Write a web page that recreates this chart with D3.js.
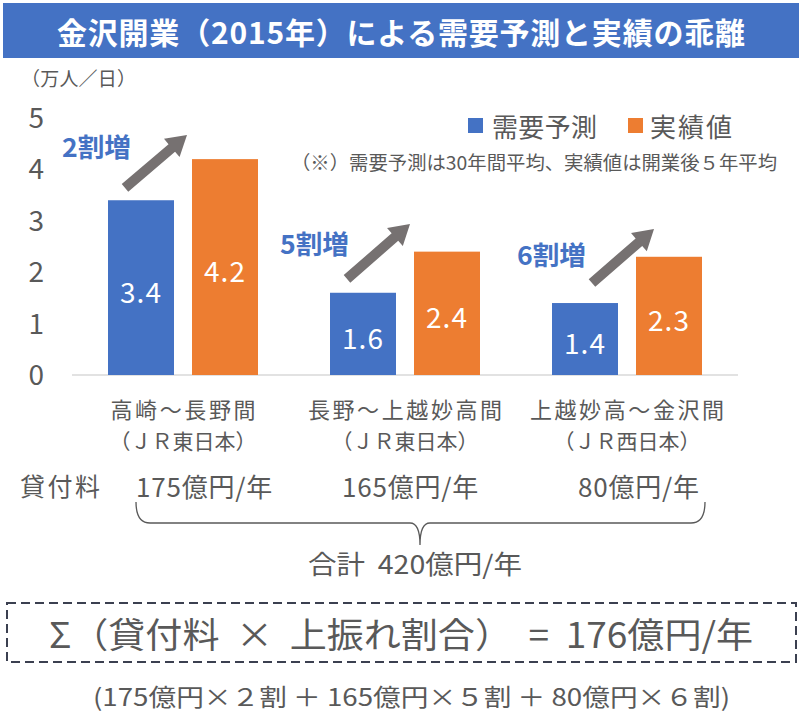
<!DOCTYPE html>
<html><head><meta charset="utf-8">
<script src="https://cdn.jsdelivr.net/npm/d3@7"></script>
<style>
html,body{margin:0;padding:0;background:#fff;}
svg{display:block;font-family:"Noto Sans CJK JP","Noto Sans",sans-serif;}
</style></head>
<body>
<script>
// ---- data ----
const categories = ["高崎～長野間", "長野～上越妙高間", "上越妙高～金沢間"];
const operators = ["（ＪＲ東日本）", "（ＪＲ東日本）", "（ＪＲ西日本）"];
const series = ["需要予測", "実績値"];
const forecast = [3.4, 1.6, 1.4];
const actual = [4.2, 2.4, 2.3];
const increaseLabels = ["2割増", "5割増", "6割増"];
const fees = ["175億円/年", "165億円/年", "80億円/年"];
const yTicks = [0, 1, 2, 3, 4, 5];
const titleText = "金沢開業（2015年）による需要予測と実績の乖離";
const unitText = "（万人／日）";
const noteText = "（※）需要予測は30年間平均、実績値は開業後５年平均";
const feeLabel = "貸付料";
const totalText = "合計  420億円/年";
const formulaText = "Σ（貸付料  ×  上振れ割合）  =  176億円/年";
const breakdownText = "(175億円×２割 ＋ 165億円×５割 ＋ 80億円×６割)";

// ---- layout ----
const W = 802, H = 718;
const blue = "#4472C4", orange = "#ED7D31", grey = "#595959", arrowGrey = "#767171";
const colors = [blue, orange];
const plot = {left: 72, right: 738, top: 118, bottom: 375};
// annotation layout (pixel offsets from group start, value units for height)
const arrowTail = [[53, 3.64], [53, 1.87], [76, 1.79]];
const arrowTip = [[115, 4.67], [116, 2.94], [138, 2.84]];
const annLabelPos = [[-10, 4.47], [-14, 2.57], [1, 2.37]];
const feeX = [136, 342, 578];

const svg = d3.select("body").append("svg").attr("width", W).attr("height", H);

// title bar
svg.append("rect").attr("x", 3).attr("y", 3).attr("width", 796).attr("height", 55).attr("fill", blue);
svg.append("text").attr("x", 57).attr("y", 31).attr("dominant-baseline", "central")
  .attr("fill", "#fff").attr("font-size", 30).attr("font-weight", "bold")
  .attr("textLength", 688).attr("lengthAdjust", "spacing").text(titleText);

svg.append("text").attr("x", 21).attr("y", 77).attr("dominant-baseline", "central")
  .attr("fill", grey).attr("font-size", 19).attr("textLength", 115).attr("lengthAdjust", "spacing").text(unitText);

// scales
const x0 = d3.scaleBand().domain(categories).range([plot.left, plot.right]).paddingInner(0).paddingOuter(0);
const x1 = d3.scaleBand().domain(series).range([0, x0.bandwidth()]).paddingInner(18 / 84).paddingOuter(36 / 84);
const y = d3.scaleLinear().domain([0, 5]).range([plot.bottom, plot.top]);

// y axis
const yAxis = svg.append("g").attr("transform", `translate(${plot.left - 28},0)`)
  .call(d3.axisLeft(y).tickValues(yTicks).tickSize(0).tickPadding(0).tickFormat(d3.format("d")));
yAxis.select(".domain").remove();
yAxis.selectAll("text").attr("fill", grey).attr("font-size", 28)
  .attr("font-family", "'Noto Sans CJK JP','Noto Sans',sans-serif").attr("dy", "0.34em");

// baseline
svg.append("line").attr("x1", plot.left).attr("x2", plot.right).attr("y1", y(0)).attr("y2", y(0))
  .attr("stroke", "#D9D9D9").attr("stroke-width", 1.3);

// bars
const rows = categories.map((c, i) => ({cat: c, vals: [forecast[i], actual[i]]}));
const g = svg.selectAll("g.grp").data(rows).join("g").attr("class", "grp")
  .attr("transform", d => `translate(${x0(d.cat)},0)`);
g.selectAll("rect").data(d => d.vals.map((v, k) => ({s: series[k], v, k})))
  .join("rect")
  .attr("x", d => x1(d.s)).attr("width", x1.bandwidth())
  .attr("y", d => y(d.v)).attr("height", d => y(0) - y(d.v))
  .attr("fill", d => colors[d.k]);
g.selectAll("text.val").data(d => d.vals.map((v, k) => ({s: series[k], v, k})))
  .join("text").attr("class", "val")
  .attr("x", d => x1(d.s) + x1.bandwidth() / 2)
  .attr("y", d => (y(d.v) + y(0)) / 2 + 3)
  .attr("text-anchor", "middle").attr("dominant-baseline", "central")
  .attr("fill", "#fff").attr("font-size", 28).attr("letter-spacing", 1).text(d => d3.format(".1f")(d.v));

// arrows
function arrowPath(x1p, y1p, x2p, y2p) {
  const dx = x2p - x1p, dy = y2p - y1p, L = Math.hypot(dx, dy);
  const ux = dx / L, uy = dy / L, nx = -uy, ny = ux;
  const sw = 5, hw = 12, hl = 20;
  const bx = x2p - ux * hl, by = y2p - uy * hl;
  const p = [
    [x1p + nx * sw, y1p + ny * sw], [bx + nx * sw, by + ny * sw], [bx + nx * hw, by + ny * hw],
    [x2p, y2p], [bx - nx * hw, by - ny * hw], [bx - nx * sw, by - ny * sw], [x1p - nx * sw, y1p - ny * sw]
  ];
  return "M" + p.map(q => q.join(",")).join("L") + "Z";
}
categories.forEach((c, i) => {
  const gx = x0(c);
  svg.append("path")
    .attr("d", arrowPath(gx + arrowTail[i][0], y(arrowTail[i][1]), gx + arrowTip[i][0], y(arrowTip[i][1])))
    .attr("fill", arrowGrey);
  svg.append("text").attr("x", gx + annLabelPos[i][0]).attr("y", y(annLabelPos[i][1]))
    .attr("dominant-baseline", "central").attr("fill", blue).attr("font-size", 26).attr("font-weight", "bold")
    .attr("textLength", 69).attr("lengthAdjust", "spacingAndGlyphs").text(increaseLabels[i]);
});

// category labels
categories.forEach((c, i) => {
  const cx = x0(c) + x0.bandwidth() / 2;
  svg.append("text").attr("x", cx + 1.3).attr("y", 408).attr("text-anchor", "middle")
    .attr("dominant-baseline", "central").attr("fill", grey).attr("font-size", 22)
    .attr("letter-spacing", 2.6).text(c);
  svg.append("text").attr("x", cx).attr("y", 440).attr("text-anchor", "middle")
    .attr("dominant-baseline", "central").attr("fill", grey).attr("font-size", 21).text(operators[i]);
});

// legend
const legX = [468, 628], legTX = [492, 650], legTL = [105, 82];
series.forEach((s, k) => {
  svg.append("rect").attr("x", legX[k]).attr("y", 118).attr("width", 15).attr("height", 15).attr("fill", colors[k]);
  svg.append("text").attr("x", legTX[k]).attr("y", 125).attr("dominant-baseline", "central")
    .attr("fill", grey).attr("font-size", 26).attr("textLength", legTL[k]).attr("lengthAdjust", "spacing").text(s);
});
svg.append("text").attr("x", 291).attr("y", 161).attr("dominant-baseline", "central")
  .attr("fill", grey).attr("font-size", 19).attr("textLength", 486).attr("lengthAdjust", "spacingAndGlyphs").text(noteText);

// fees
svg.append("text").attr("x", 20).attr("y", 485).attr("dominant-baseline", "central")
  .attr("fill", grey).attr("font-size", 25).attr("textLength", 80).attr("lengthAdjust", "spacing").text(feeLabel);
fees.forEach((f, i) => {
  svg.append("text").attr("x", feeX[i]).attr("y", 485).attr("dominant-baseline", "central")
    .attr("fill", grey).attr("font-size", 26).attr("letter-spacing", 0.8).text(f);
});

// brace
svg.append("path")
  .attr("d", "M136,502 Q136,523 150,523 L410,523 Q420,523 420,545 Q420,523 430,523 L691,523 Q705,523 705,502")
  .attr("fill", "none").attr("stroke", grey).attr("stroke-width", 1.3);
svg.append("text").attr("x", 308).attr("y", 562).attr("dominant-baseline", "central")
  .attr("fill", grey).attr("font-size", 26).attr("textLength", 214).attr("lengthAdjust", "spacingAndGlyphs")
  .attr("xml:space", "preserve").text(totalText);

// formula box
svg.append("rect").attr("x", 7).attr("y", 603).attr("width", 789).attr("height", 59)
  .attr("fill", "none").attr("stroke", "#3B4050").attr("stroke-width", 2).attr("stroke-dasharray", "9,5");
svg.append("text").attr("x", 49).attr("y", 632).attr("dominant-baseline", "central")
  .attr("fill", grey).attr("font-size", 35).attr("textLength", 704).attr("lengthAdjust", "spacingAndGlyphs")
  .attr("xml:space", "preserve").text(formulaText);
svg.append("text").attr("x", 93).attr("y", 695).attr("dominant-baseline", "central")
  .attr("fill", grey).attr("font-size", 24).attr("textLength", 637).attr("lengthAdjust", "spacingAndGlyphs").text(breakdownText);
</script>
</body></html>
